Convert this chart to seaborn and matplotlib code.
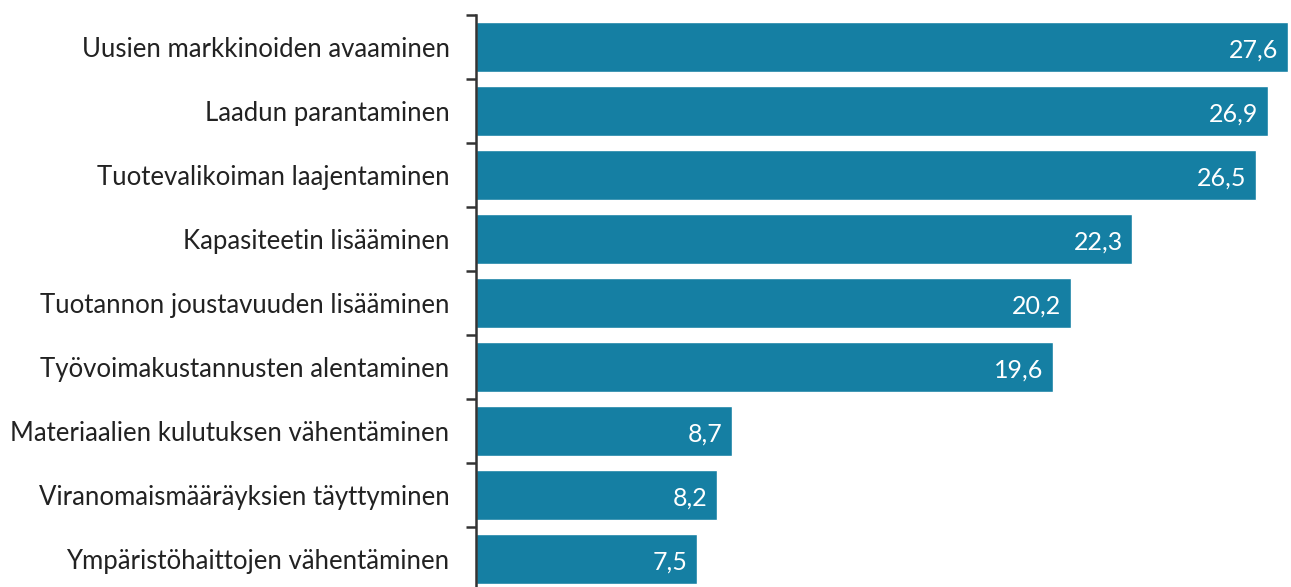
"""
Horizontal bar chart: investment motives (share, %)
"""

import matplotlib
matplotlib.use("Agg")
import matplotlib.pyplot as plt
import seaborn as sns
import pandas as pd

categories = [
    "Uusien markkinoiden avaaminen",
    "Laadun parantaminen",
    "Tuotevalikoiman laajentaminen",
    "Kapasiteetin lisääminen",
    "Tuotannon joustavuuden lisääminen",
    "Työvoimakustannusten alentaminen",
    "Materiaalien kulutuksen vähentäminen",
    "Viranomaismääräyksien täyttyminen",
    "Ympäristöhaittojen vähentäminen",
]
values = [27.6, 26.9, 26.5, 22.3, 20.2, 19.6, 8.7, 8.2, 7.5]

bar_color = "#157fa3"

sns.set_theme(style="white")
plt.rcParams["font.family"] = ["Lato", "DejaVu Sans"]

df = pd.DataFrame({"motive": categories, "share": values})

fig = plt.figure(figsize=(12.91, 5.87), dpi=100)
ax = fig.add_axes([0.3687, -0.007, 0.6313, 0.9815])

sns.barplot(data=df, x="share", y="motive", color=bar_color, width=0.78,
            saturation=1, ax=ax)

ax.set_xlim(0, 27.69)
ax.set_ylim(len(categories) - 0.5, -0.5)
ax.set_xlabel("")
ax.set_ylabel("")
ax.set_xticks([])

# tick marks between categories, labels at category centres
ax.set_yticks([i - 0.5 for i in range(len(categories) + 1)])
ax.set_yticklabels([])
ax.set_yticks(range(len(categories)), minor=True)
ax.set_yticklabels(categories, minor=True, fontsize=18.5, color="#222222")
ax.tick_params(axis="y", which="major", length=7, width=1.8, color="#333333", left=True)
ax.tick_params(axis="y", which="minor", length=0, pad=19)

for side in ["top", "right", "bottom"]:
    ax.spines[side].set_visible(False)
ax.spines["left"].set_color("#333333")
ax.spines["left"].set_linewidth(1.8)

for i, v in enumerate(values):
    ax.annotate(f"{v:.1f}".replace(".", ","), xy=(v, i), xytext=(-7, -2),
                textcoords="offset points", ha="right", va="center",
                color="white", fontsize=18)

fig.savefig("out.png", dpi=100)
